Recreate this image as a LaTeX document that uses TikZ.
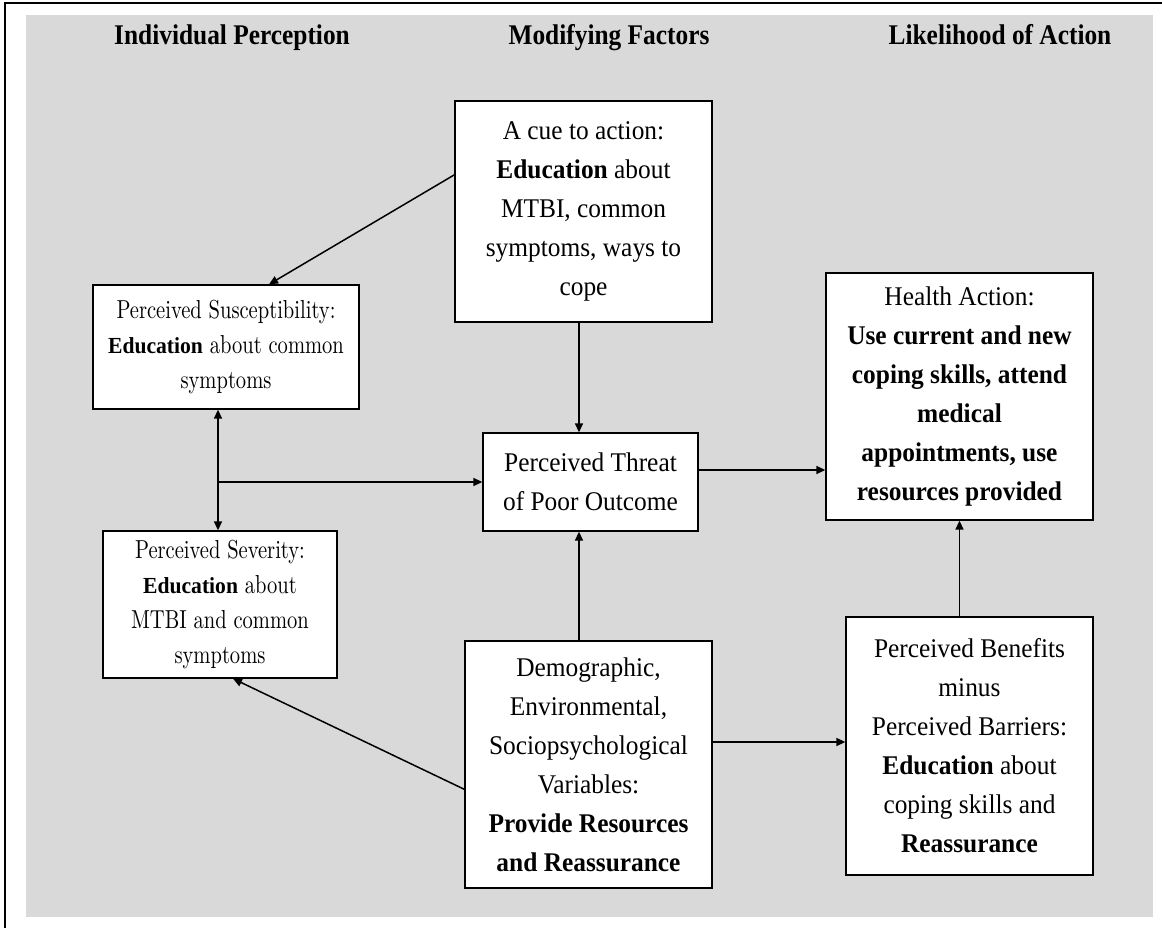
\documentclass[tikz,border=0pt]{standalone}
\usepackage{fontspec}
\usetikzlibrary{arrows.meta,calc,shadows}
% Times-like faces, slightly condensed
\newfontfamily\tnr{Liberation Serif}[FakeStretch=0.94]
\newfontfamily\headfont{Liberation Serif}[FakeStretch=0.89]
% light serif used in the two perception boxes
\newfontfamily\lightserif{lmroman10-regular.otf}[FakeStretch=0.79]
\newcommand{\edu}{{\fontsize{23}{35}\tnr\bfseries Education}}

\begin{document}
\begin{tikzpicture}[x=1pt,y=-1pt,
  panel/.style={fill=black!15},
  frame/.style={line width=1.6pt},
  head/.style={anchor=base,font={\headfont\bfseries\fontsize{28.5}{34}\selectfont}},
  box/.style={draw,fill=white,line width=1.3pt,inner sep=0pt,align=center,
    drop shadow={shadow xshift=1.2pt,shadow yshift=-1.3pt,fill=black!60,opacity=1},
    font={\tnr\fontsize{27}{39}\selectfont}},
  lightbox/.style={box,font={\lightserif\fontsize{26}{35}\selectfont}},
  arr/.style={line width=1.5pt,-{Triangle[length=9pt,width=8pt]}},
  dblarr/.style={line width=1.5pt,{Triangle[length=9pt,width=8pt]}-{Triangle[length=9pt,width=8pt]}}
]
\useasboundingbox (0,0) rectangle (1162,928);

% background panel and outer frame
\fill[panel] (26,15) rectangle (1153,917);
\draw[frame] (5,928) -- (5,3) -- (1162,3);

% column headings
\node[head] (h1) at (232,45) {Individual Perception};
\node[head] (h2) at (609,45) {Modifying Factors};
\node[head] (h3) at (1000,45) {Likelihood of Action};

% boxes
\node[box,minimum width=257pt,minimum height=221pt] (cue) at (583.5,211.5)
  {A cue to action:\\ \textbf{Education} about\\ MTBI, common\\ symptoms, ways to\\ cope};
\node[lightbox,minimum width=266pt,minimum height=124pt] (susc) at (226,347)
  {Perceived Susceptibility:\\ \edu{} about common\\ symptoms};
\node[lightbox,minimum width=234pt,minimum height=147pt] (sev) at (220,604.5)
  {Perceived Severity:\\ \edu{} about\\ MTBI and common\\ symptoms};
\node[box,minimum width=215pt,minimum height=98pt] (threat) at (590.5,482)
  {Perceived Threat\\ of Poor Outcome};
\node[box,minimum width=247pt,minimum height=247pt] (demo) at (588.5,764.5)
  {Demographic,\\ Environmental,\\ Sociopsychological\\ Variables:\\ \textbf{Provide Resources}\\ \textbf{and Reassurance}};
\node[box,minimum width=267pt,minimum height=247pt] (health) at (959.5,396.5)
  {Health Action:\\ \textbf{Use current and new}\\ \textbf{coping skills, attend}\\ \textbf{medical}\\ \textbf{appointments, use}\\ \textbf{resources provided}};
\node[box,minimum width=247pt,minimum height=258pt] (ben) at (969.5,746)
  {Perceived Benefits\\ minus\\ Perceived Barriers:\\ \textbf{Education} about\\ coping skills and\\ \textbf{Reassurance}};

% guide positions for the straight connectors
\coordinate (vx) at (579,0);
\coordinate (lx) at (218,0);
\coordinate (hy) at (0,470);
\coordinate (by) at (0,742);
\coordinate (jn) at (lx |- threat.west);

% connectors
\draw[arr] ($(cue.north west)!0.335!(cue.south west)$) -- ($(susc.north)+(43,0)$);
\draw[arr] (cue.south -| vx) -- (threat.north -| vx);
\draw[arr] (demo.north -| vx) -- (threat.south -| vx);
\draw[dblarr] (susc.south -| lx) -- (sev.north -| lx);
\draw[arr] (jn) -- (threat.west);
\draw[arr] (threat.east |- hy) -- (health.west |- hy);
\draw[arr] ($(demo.north west)!0.6!(demo.south west)$) -- ($(sev.south)+(13,0)$);
\draw[arr] (demo.east |- by) -- (ben.west |- by);
\draw[arr] (ben.north -| health.south) -- (health.south);
\end{tikzpicture}
\end{document}
